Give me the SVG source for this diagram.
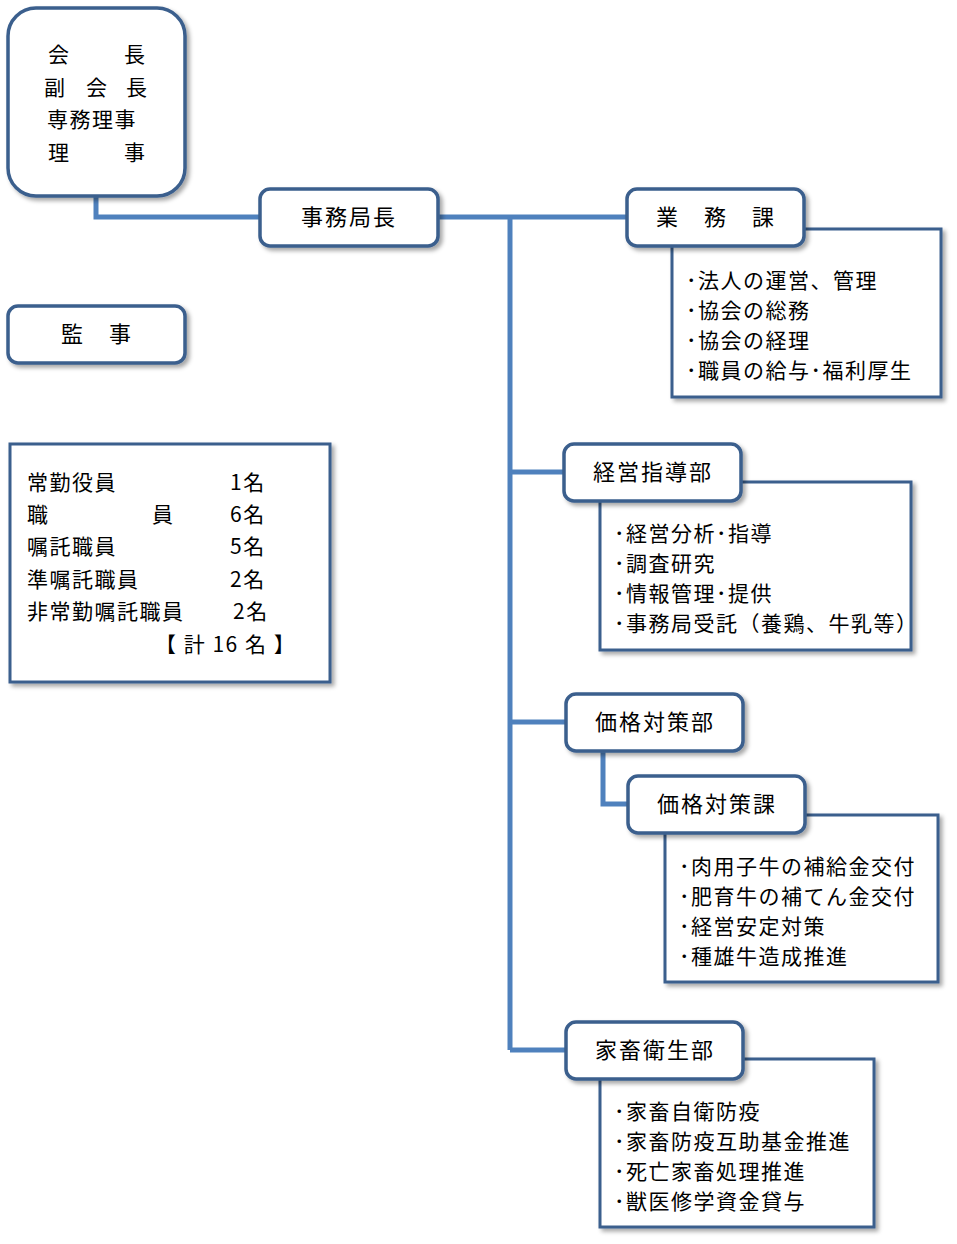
<svg xmlns="http://www.w3.org/2000/svg" width="957" height="1244" viewBox="0 0 957 1244">
<defs>
<filter id="sh" x="-10%" y="-10%" width="130%" height="130%"><feDropShadow dx="3" dy="3" stdDeviation="2" flood-color="#000" flood-opacity="0.35"/></filter>
<style>
.n{fill:#fff;stroke:#3b5f8d;stroke-width:3.5;filter:url(#sh)}
.d{fill:#fff;stroke:#3b5f8d;stroke-width:3;filter:url(#sh)}
.c{fill:none;stroke:#4f81bd;stroke-width:5}
text{font-family:"Noto Sans CJK JP","Liberation Sans",sans-serif;font-size:21px;fill:#000;letter-spacing:1.5px}
.m{text-anchor:middle;font-size:22px;letter-spacing:2px}
</style>
</defs>
<rect width="957" height="1244" fill="#fff"/>
<g id="connectors">
<polyline class="c" points="96,196 96,217 260,217"/>
<line class="c" x1="438" y1="217" x2="627" y2="217"/>
<line class="c" x1="510" y1="217" x2="510" y2="1050"/>
<line class="c" x1="510" y1="472" x2="564" y2="472"/>
<line class="c" x1="510" y1="722" x2="566" y2="722"/>
<line class="c" x1="510" y1="1050" x2="566" y2="1050"/>
<polyline class="c" points="603,751 603,804 628,804"/>
</g>
<g id="top"><rect class="n" x="8" y="8" width="177" height="188" rx="28"/>
<text x="48" y="62">会</text><text x="124" y="62">長</text>
<text x="44" y="95">副</text><text x="86" y="95">会</text><text x="126" y="95">長</text>
<text x="47" y="127" letter-spacing="4">専務理事</text>
<text x="48" y="160">理</text><text x="124" y="160">事</text></g>
<g id="jimukyoku"><rect class="n" x="260" y="189" width="178" height="57" rx="10"/><text class="m" x="349" y="225">事務局長</text></g>
<g id="kanji"><rect class="n" x="8" y="306" width="177" height="57" rx="10"/><text class="m" x="97" y="342">監　事</text></g>
<g id="staff"><rect class="d" x="10" y="444" width="320" height="238"/>
<text x="27" y="490" letter-spacing="20">常勤役員</text><text x="230" y="490">1名</text>
<text x="27" y="522">職</text><text x="152" y="522">員</text><text x="230" y="522">6名</text>
<text x="27" y="554" letter-spacing="20">嘱託職員</text><text x="230" y="554">5名</text>
<text x="27" y="587" letter-spacing="11">準嘱託職員</text><text x="230" y="587">2名</text>
<text x="27" y="619" letter-spacing="3">非常勤嘱託職員</text><text x="233" y="619">2名</text>
<text x="155" y="652" letter-spacing="3">【 計 16 名 】</text></g>
<g id="gyomu"><rect class="d" x="672" y="229" width="269" height="168"/><rect class="n" x="627" y="189" width="177" height="57" rx="10"/>
<text class="m" x="716" y="225">業　務　課</text>
<text x="686" y="288">･法人の運営、管理</text><text x="686" y="318">･協会の総務</text><text x="686" y="348">･協会の経理</text><text x="686" y="378">･職員の給与･福利厚生</text></g>
<g id="keiei"><rect class="d" x="600" y="482" width="311" height="168"/><rect class="n" x="564" y="444" width="177" height="57" rx="10"/>
<text class="m" x="653" y="480">経営指導部</text>
<text x="614" y="541">･経営分析･指導</text><text x="614" y="571">･調査研究</text><text x="614" y="601">･情報管理･提供</text><text x="614" y="631" letter-spacing="0">･事務局受託（養鶏、牛乳等）</text></g>
<g id="kakakubu"><rect class="n" x="566" y="694" width="177" height="57" rx="10"/><text class="m" x="655" y="730">価格対策部</text></g>
<g id="kakakuka"><rect class="d" x="665" y="815" width="273" height="167"/><rect class="n" x="628" y="776" width="177" height="57" rx="10"/>
<text class="m" x="717" y="812">価格対策課</text>
<text x="679" y="874">･肉用子牛の補給金交付</text><text x="679" y="904">･肥育牛の補てん金交付</text><text x="679" y="934">･経営安定対策</text><text x="679" y="964">･種雄牛造成推進</text></g>
<g id="kachiku"><rect class="d" x="600" y="1059" width="274" height="168"/><rect class="n" x="566" y="1022" width="177" height="57" rx="10"/>
<text class="m" x="655" y="1058">家畜衛生部</text>
<text x="614" y="1119">･家畜自衛防疫</text><text x="614" y="1149">･家畜防疫互助基金推進</text><text x="614" y="1179">･死亡家畜処理推進</text><text x="614" y="1209">･獣医修学資金貸与</text></g>
</svg>
